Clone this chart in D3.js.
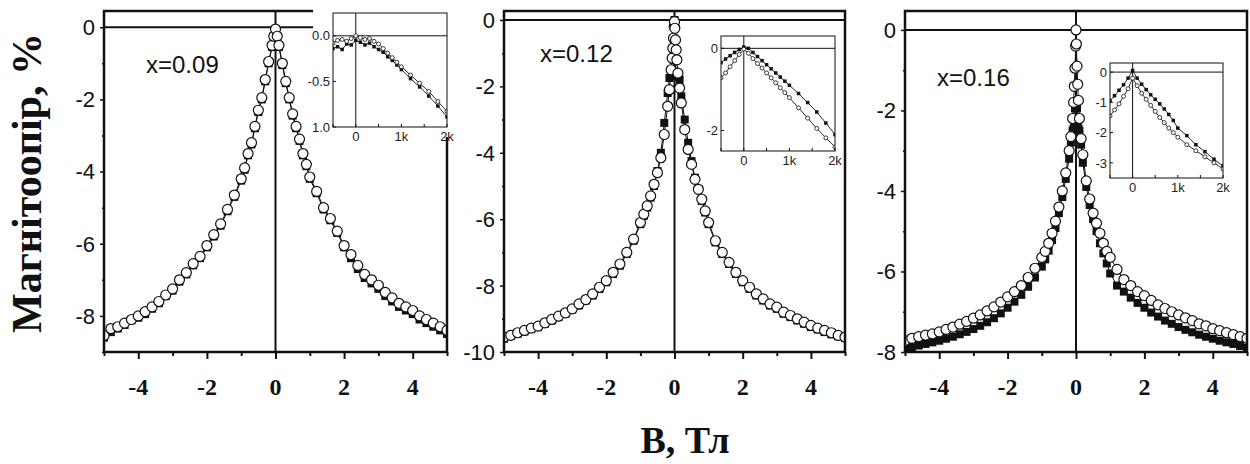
<!DOCTYPE html>
<html>
<head>
<meta charset="utf-8">
<script src="https://cdn.jsdelivr.net/npm/d3@7/dist/d3.min.js"></script>
<style>
  html, body { margin: 0; padding: 0; background: #fff; }
  svg { display: block; }
</style>
</head>
<body>
<svg id="chart" width="1250" height="464"></svg>
<script>
// ---- Magnetoresistance data, B in Tesla, MR in % ----
// x = 0.09
const B1 = [-5,-4.8,-4.6,-4.4,-4.2,-4,-3.8,-3.6,-3.4,-3.2,-3,-2.8,-2.6,-2.4,-2.2,-2,-1.8,-1.6,-1.4,-1.2,-1,
  -0.9,-0.8,-0.7,-0.6,-0.5,-0.4,-0.3,-0.2,-0.1,
  -0.05,0,0.05,
  0.1,0.2,0.3,0.4,0.5,0.6,0.7,0.8,0.9,
  1,1.2,1.4,1.6,1.8,2,2.2,2.4,2.6,2.8,3,3.2,3.4,3.6,3.8,4,4.2,4.4,4.6,4.8,5];
const open1 = [-8.55,-8.35,-8.3,-8.2,-8.1,-8.0,-7.88,-7.75,-7.6,-7.42,-7.25,-7.0,-6.8,-6.55,-6.35,-6.05,-5.75,-5.45,-5.05,-4.65,-4.2,
  -3.9,-3.5,-3.2,-2.75,-2.3,-1.95,-1.45,-0.95,-0.5,
  -0.25,-0.05,-0.25,
  -0.5,-1.0,-1.5,-1.95,-2.4,-2.75,-3.1,-3.5,-3.8,
  -4.15,-4.55,-5.0,-5.3,-5.65,-6.05,-6.3,-6.6,-6.85,-7.0,-7.15,-7.35,-7.5,-7.65,-7.75,-7.85,-8.0,-8.1,-8.2,-8.3,-8.4];
const filled1 = [-8.6,-8.45,-8.35,-8.25,-8.12,-8.05,-7.95,-7.8,-7.65,-7.45,-7.3,-7.05,-6.85,-6.6,-6.4,-6.1,-5.8,-5.5,-5.1,-4.7,-4.25,
  -3.95,-3.55,-3.25,-2.8,-2.35,-2.0,-1.5,-1.0,-0.55,
  -0.3,-0.1,-0.3,
  -0.55,-1.05,-1.55,-2.0,-2.45,-2.8,-3.15,-3.55,-3.85,
  -4.2,-4.6,-5.05,-5.35,-5.7,-6.1,-6.4,-6.7,-6.95,-7.1,-7.25,-7.45,-7.6,-7.75,-7.85,-7.95,-8.1,-8.2,-8.3,-8.4,-8.5];

// x = 0.12
const B2 = [-5,-4.8,-4.6,-4.4,-4.2,-4,-3.8,-3.6,-3.4,-3.2,-3,-2.8,-2.6,-2.4,-2.2,-2,-1.8,-1.6,-1.4,-1.2,-1,
  -0.9,-0.8,-0.7,-0.6,-0.5,-0.4,-0.3,-0.2,
  -0.15,-0.1,-0.07,-0.05,-0.03,-0.01,0,0.01,0.03,0.05,0.07,0.1,0.15,
  0.2,0.3,0.4,0.5,0.6,0.7,0.8,0.9,
  1,1.2,1.4,1.6,1.8,2,2.2,2.4,2.6,2.8,3,3.2,3.4,3.6,3.8,4,4.2,4.4,4.6,4.8,5];
const open2 = [-9.55,-9.5,-9.42,-9.35,-9.28,-9.22,-9.12,-9.02,-8.92,-8.82,-8.7,-8.55,-8.42,-8.25,-8.05,-7.85,-7.6,-7.35,-7.0,-6.6,-6.1,
  -5.85,-5.6,-5.3,-4.95,-4.6,-4.15,-3.45,-2.6,
  -2.1,-1.5,-1.15,-0.85,-0.55,-0.2,-0.05,-0.25,-0.6,-0.9,-1.2,-1.6,-2.05,
  -2.5,-3.3,-3.9,-4.35,-4.8,-5.1,-5.4,-5.75,
  -6.1,-6.65,-7.0,-7.3,-7.6,-7.85,-8.05,-8.25,-8.4,-8.55,-8.65,-8.8,-8.9,-9.0,-9.1,-9.2,-9.28,-9.35,-9.42,-9.5,-9.55];
const filled2 = [-9.6,-9.52,-9.45,-9.38,-9.3,-9.25,-9.15,-9.05,-8.95,-8.85,-8.72,-8.6,-8.45,-8.3,-8.1,-7.9,-7.65,-7.4,-7.05,-6.65,-6.15,
  -5.9,-5.65,-5.35,-5.0,-4.55,-4.0,-3.1,-2.2,
  -1.75,-1.7,-1.65,-1.6,-1.2,-0.6,0.0,-0.6,-1.2,-1.6,-1.65,-1.7,-1.8,
  -2.3,-3.0,-3.7,-4.25,-4.75,-5.1,-5.45,-5.8,
  -6.15,-6.7,-7.05,-7.35,-7.65,-7.9,-8.1,-8.3,-8.45,-8.6,-8.7,-8.85,-8.95,-9.05,-9.15,-9.25,-9.32,-9.4,-9.47,-9.53,-9.58];

// x = 0.16
const B3 = B2.slice();
const open3 = [-7.72,-7.66,-7.62,-7.58,-7.55,-7.5,-7.44,-7.38,-7.31,-7.24,-7.16,-7.08,-6.98,-6.88,-6.76,-6.63,-6.5,-6.35,-6.15,-5.92,-5.65,
  -5.5,-5.3,-5.05,-4.75,-4.4,-4.0,-3.55,-3.0,
  -2.65,-2.2,-1.8,-1.4,-0.95,-0.4,0.0,-0.35,-0.9,-1.35,-1.75,-2.2,-2.7,
  -3.1,-3.75,-4.2,-4.55,-4.8,-5.05,-5.3,-5.5,
  -5.65,-5.95,-6.2,-6.35,-6.5,-6.6,-6.72,-6.83,-6.92,-7.0,-7.08,-7.15,-7.22,-7.3,-7.35,-7.42,-7.47,-7.52,-7.57,-7.62,-7.66];
const filled3 = [-7.92,-7.88,-7.84,-7.8,-7.76,-7.72,-7.67,-7.62,-7.56,-7.5,-7.43,-7.35,-7.26,-7.16,-7.04,-6.9,-6.75,-6.58,-6.38,-6.15,-5.88,
  -5.7,-5.48,-5.22,-4.92,-4.55,-4.15,-3.7,-3.2,
  -2.8,-2.5,-2.45,-2.4,-1.95,-1.9,-1.85,-1.9,-1.95,-2.4,-2.45,-2.5,-2.85,
  -3.3,-3.9,-4.35,-4.7,-5.0,-5.3,-5.55,-5.8,
  -6.05,-6.35,-6.5,-6.65,-6.78,-6.9,-7.02,-7.12,-7.22,-7.3,-7.38,-7.45,-7.51,-7.57,-7.62,-7.67,-7.72,-7.76,-7.8,-7.85,-7.9];

// ---- Low-field insets, field in Oe ----
const Hin = [-500,-400,-300,-200,-100,0,100,200,300,400,500,600,700,800,900,1000,1200,1400,1600,1800,2000];
const inOpen1   = [-0.08,-0.05,-0.04,-0.06,-0.03,0.0,-0.02,-0.04,-0.03,-0.06,-0.09,-0.14,-0.19,-0.24,-0.29,-0.34,-0.43,-0.52,-0.61,-0.72,-0.83];
const inFilled1 = [-0.14,-0.12,-0.15,-0.09,-0.1,-0.05,-0.07,-0.1,-0.08,-0.12,-0.15,-0.18,-0.23,-0.27,-0.32,-0.37,-0.47,-0.56,-0.66,-0.77,-0.89];
const inOpen2   = [-0.72,-0.6,-0.45,-0.3,-0.15,-0.02,-0.12,-0.25,-0.37,-0.48,-0.6,-0.72,-0.84,-0.96,-1.08,-1.2,-1.45,-1.7,-1.95,-2.18,-2.4];
const inFilled2 = [-0.35,-0.26,-0.18,-0.1,-0.03,0.03,0.0,-0.1,-0.2,-0.3,-0.4,-0.5,-0.6,-0.7,-0.8,-0.9,-1.1,-1.32,-1.55,-1.82,-2.1];
const inOpen3   = [-1.45,-1.25,-1.05,-0.8,-0.55,-0.2,-0.45,-0.7,-0.9,-1.1,-1.3,-1.5,-1.67,-1.85,-2.0,-2.15,-2.4,-2.6,-2.8,-3.0,-3.2];
const inFilled3 = [-0.95,-0.78,-0.6,-0.42,-0.2,0.05,-0.2,-0.4,-0.58,-0.75,-0.9,-1.05,-1.22,-1.4,-1.6,-1.85,-2.1,-2.4,-2.63,-2.88,-3.1];

// ---- Tick labels ----
const xTicks = [-4, -2, 0, 2, 4];
const yTicks1 = [0, -2, -4, -6, -8];
const yTicks2 = [0, -2, -4, -6, -8, -10];
const yTicks3 = [0, -2, -4, -6, -8];
const inXTicks = [0, 1000, 2000];
const inXLabels = ["0", "1k", "2k"];
const inYTicks1 = [0, -0.5, -1.0];
const inYLabels1 = ["0.0", "-0.5", "1.0"];
const inYTicks2 = [0, -2];
const inYTicks3 = [0, -1, -2, -3];
const compositions = ["x=0.09", "x=0.12", "x=0.16"];

// ---- Layout ----
const svg = d3.select("#chart");
const INK = "#111";
const SANS = "Arial, 'Liberation Sans', Helvetica, sans-serif";
const SERIF = "'Times New Roman', 'Liberation Serif', serif";
const plotTop = 11, plotBottom = 352;

const panels = [
  { left: 104, right: 447, yDom: [-9, 0.45], yTicks: yTicks1, B: B1, open: open1, filled: filled1,
    label: compositions[0], lx: 146, ly: 73,
    inset: { l: 333, r: 447, t: 13, b: 127, yDom: [-1.0, 0.25], yTicks: inYTicks1, yLabels: inYLabels1,
             open: inOpen1, filled: inFilled1, bg: [313, 0, 140, 137] } },
  { left: 504, right: 845, yDom: [-10, 0.27], yTicks: yTicks2, B: B2, open: open2, filled: filled2,
    label: compositions[1], lx: 540, ly: 62,
    inset: { l: 721, r: 835, t: 36, b: 151, yDom: [-2.5, 0.3], yTicks: inYTicks2, yLabels: inYTicks2.map(String),
             open: inOpen2, filled: inFilled2 } },
  { left: 905, right: 1247, yDom: [-8, 0.47], yTicks: yTicks3, B: B3, open: open3, filled: filled3,
    label: compositions[2], lx: 937, ly: 86,
    inset: { l: 1110, r: 1223, t: 63, b: 178, yDom: [-3.5, 0.3], yTicks: inYTicks3, yLabels: inYTicks3.map(String),
             open: inOpen3, filled: inFilled3 } }
];

function drawSeries(g, xs, ys, B, vals, opt) {
  const pts = B.map((b, i) => [b, vals[i]]);
  const line = d3.line().x(d => xs(d[0])).y(d => ys(d[1]));
  g.append("path").attr("d", line(pts))
    .attr("fill", "none").attr("stroke", INK).attr("stroke-width", opt.lw);
  if (opt.kind === "square") {
    g.selectAll(null).data(pts).enter().append("rect")
      .attr("x", d => xs(d[0]) - opt.size / 2).attr("y", d => ys(d[1]) - opt.size / 2)
      .attr("width", opt.size).attr("height", opt.size).attr("fill", INK);
  } else {
    g.selectAll(null).data(pts).enter().append("circle")
      .attr("cx", d => xs(d[0])).attr("cy", d => ys(d[1])).attr("r", opt.size)
      .attr("fill", "#fff").attr("stroke", INK).attr("stroke-width", opt.sw);
  }
}

panels.forEach((p, k) => {
  const x = d3.scaleLinear().domain([-5, 5]).range([p.left, p.right]);
  const y = d3.scaleLinear().domain(p.yDom).range([plotBottom, plotTop]);
  const g = svg.append("g");

  const clipId = "clip" + k;
  svg.append("clipPath").attr("id", clipId).append("rect")
    .attr("x", p.left).attr("y", plotTop).attr("width", p.right - p.left).attr("height", plotBottom - plotTop);

  // zero lines
  g.append("line").attr("x1", p.left).attr("x2", p.right).attr("y1", y(0)).attr("y2", y(0))
    .attr("stroke", INK).attr("stroke-width", 2);
  g.append("line").attr("x1", x(0)).attr("x2", x(0)).attr("y1", plotTop).attr("y2", plotBottom)
    .attr("stroke", INK).attr("stroke-width", 2);

  // data
  const dg = g.append("g").attr("clip-path", `url(#${clipId})`);
  drawSeries(dg, x, y, p.B, p.filled, { kind: "square", size: 8, lw: 1 });
  drawSeries(dg, x, y, p.B, p.open, { kind: "circle", size: 5, sw: 1.2, lw: 1 });

  // x axis
  const xAxis = d3.axisBottom(x).tickValues(d3.range(-5, 5.01, 1)).tickSize(6).tickFormat("");
  const xa = g.append("g").attr("transform", `translate(0,${plotBottom})`).call(xAxis);
  xa.select(".domain").remove();
  xa.selectAll(".tick line").attr("stroke", INK).attr("stroke-width", 2)
    .attr("y2", d => (Math.abs(d % 2) < 1e-9 ? 7 : 4));
  g.selectAll(null).data(xTicks).enter().append("text")
    .attr("x", d => x(d)).attr("y", plotBottom + 43)
    .attr("text-anchor", "middle").attr("font-family", SERIF).attr("font-weight", "bold")
    .attr("font-size", 24).attr("fill", INK).text(d => d);

  // y axis
  const yMinor = d3.range(Math.ceil(p.yDom[0]), 0.01, 1);
  const ya = g.append("g").attr("transform", `translate(${p.left},0)`)
    .call(d3.axisLeft(y).tickValues(yMinor).tickSize(4).tickFormat(""));
  ya.select(".domain").remove();
  ya.selectAll(".tick line").attr("stroke", INK).attr("stroke-width", 1.5)
    .attr("x2", d => (Math.abs(d % 2) < 1e-9 ? -4 : -2));
  g.selectAll(null).data(p.yTicks).enter().append("text")
    .attr("x", p.left - 9).attr("y", d => y(d)).attr("dy", "0.36em")
    .attr("text-anchor", "end").attr("font-family", SANS).attr("font-size", 22)
    .attr("fill", INK).text(d => d);

  // frame
  g.append("rect").attr("x", p.left).attr("y", plotTop)
    .attr("width", p.right - p.left).attr("height", plotBottom - plotTop)
    .attr("fill", "none").attr("stroke", INK).attr("stroke-width", 2.5);

  // composition label
  g.append("text").attr("x", p.lx).attr("y", p.ly)
    .attr("font-family", SANS).attr("font-size", 24).attr("fill", INK).text(p.label);

  // ---- inset ----
  const q = p.inset;
  const ig = svg.append("g");
  if (q.bg) {
    ig.append("rect").attr("x", q.bg[0]).attr("y", q.bg[1]).attr("width", q.bg[2]).attr("height", q.bg[3])
      .attr("fill", "#fff");
  }
  ig.append("rect").attr("x", q.l).attr("y", q.t).attr("width", q.r - q.l).attr("height", q.b - q.t)
    .attr("fill", "#fff");
  const ix = d3.scaleLinear().domain([-500, 2000]).range([q.l, q.r]);
  const iy = d3.scaleLinear().domain(q.yDom).range([q.b, q.t]);
  const iclip = "iclip" + k;
  svg.append("clipPath").attr("id", iclip).append("rect")
    .attr("x", q.l).attr("y", q.t).attr("width", q.r - q.l).attr("height", q.b - q.t);

  ig.append("line").attr("x1", q.l).attr("x2", q.r).attr("y1", iy(0)).attr("y2", iy(0))
    .attr("stroke", INK).attr("stroke-width", 1);
  ig.append("line").attr("x1", ix(0)).attr("x2", ix(0)).attr("y1", q.t).attr("y2", q.b)
    .attr("stroke", INK).attr("stroke-width", 1);

  const idg = ig.append("g").attr("clip-path", `url(#${iclip})`);
  drawSeries(idg, ix, iy, Hin, q.filled, { kind: "square", size: 3.5, lw: 0.9 });
  drawSeries(idg, ix, iy, Hin, q.open, { kind: "circle", size: 2, sw: 0.8, lw: 0.9 });

  // inset ticks
  ig.selectAll(null).data([-500, 0, 500, 1000, 1500, 2000]).enter().append("line")
    .attr("x1", d => ix(d)).attr("x2", d => ix(d)).attr("y1", q.b).attr("y2", q.b - 3)
    .attr("stroke", INK).attr("stroke-width", 1);
  ig.selectAll(null).data(q.yTicks).enter().append("line")
    .attr("x1", q.l).attr("x2", q.l + 3).attr("y1", d => iy(d)).attr("y2", d => iy(d))
    .attr("stroke", INK).attr("stroke-width", 1);
  ig.selectAll(null).data(inXTicks).enter().append("text")
    .attr("x", d => ix(d)).attr("y", q.b + 14).attr("text-anchor", "middle")
    .attr("font-family", SANS).attr("font-size", 13).attr("fill", "#222")
    .text((d, i) => inXLabels[i]);
  ig.selectAll(null).data(q.yTicks).enter().append("text")
    .attr("x", q.l - 3).attr("y", d => iy(d)).attr("dy", "0.36em").attr("text-anchor", "end")
    .attr("font-family", SANS).attr("font-size", 13).attr("fill", "#222")
    .text((d, i) => q.yLabels[i]);

  ig.append("rect").attr("x", q.l).attr("y", q.t).attr("width", q.r - q.l).attr("height", q.b - q.t)
    .attr("fill", "none").attr("stroke", INK).attr("stroke-width", 1);
});

// axis titles
svg.append("text")
  .attr("transform", "translate(41,183) rotate(-90)")
  .attr("text-anchor", "middle").attr("font-family", SERIF).attr("font-weight", "bold")
  .attr("font-size", 42).attr("fill", INK).text("Магнітоопір, %");
svg.append("text")
  .attr("x", 685).attr("y", 453).attr("text-anchor", "middle")
  .attr("font-family", SERIF).attr("font-weight", "bold").attr("font-size", 38)
  .attr("fill", INK).text("B, Тл");
</script>
</body>
</html>
